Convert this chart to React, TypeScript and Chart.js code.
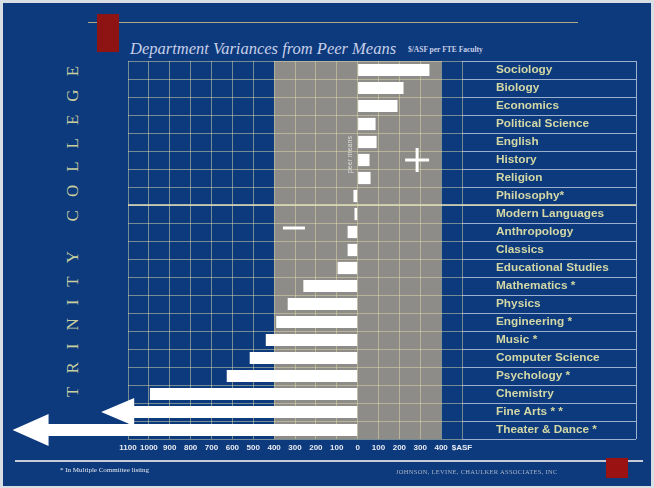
import React, { useEffect, useRef } from 'react';
import { Chart, registerables } from 'chart.js';

Chart.register(...registerables);

const departments = [
  'Sociology',
  'Biology',
  'Economics',
  'Political Science',
  'English',
  'History',
  'Religion',
  'Philosophy*',
  'Modern Languages',
  'Anthropology',
  'Classics',
  'Educational Studies',
  'Mathematics *',
  'Physics',
  'Engineering *',
  'Music *',
  'Computer Science',
  'Psychology *',
  'Chemistry',
  'Fine Arts * *',
  'Theater & Dance *',
];

// $/ASF per FTE faculty, variance from peer means
const variances = [344, 220, 191, 86, 91, 57, 62, -20, -15, -48, -48, -96, -260, -335, -390, -440, -517, -627, -995, -1080, -1490];

// departments that run off the scale (drawn with an arrowhead)
const offScale = ['Fine Arts * *', 'Theater & Dance *'];

const xTickLabels = ['1100', '1000', '900', '800', '700', '600', '500', '400', '300', '200', '100', '0', '100', '200', '300', '400', '$ASF'];
const xMin = -1100;
const xMax = 500;
const peerBand = [-400, 400];
const dividerAfter = 'Philosophy*';

const BLUE = '#0d3a7c';
const PALE = '#d3d8a6';

const decorPlugin = {
  id: 'decor',
  beforeDraw(chart: any) {
    const { ctx, chartArea, scales } = chart;
    const x = scales.x;
    const x0 = x.getPixelForValue(peerBand[0]);
    const x1 = x.getPixelForValue(peerBand[1]);
    ctx.save();
    ctx.fillStyle = '#8d8c89';
    ctx.fillRect(x0, chartArea.top, x1 - x0, chartArea.bottom - chartArea.top);
    ctx.restore();
  },
  afterDraw(chart: any) {
    const { ctx, chartArea, scales } = chart;
    const y = scales.y;
    const x = scales.x;
    const rightEdge = 636;
    ctx.save();
    // row lines extended into label column
    ctx.strokeStyle = 'rgba(205,215,235,0.75)';
    ctx.lineWidth = 1;
    for (let i = 0; i <= departments.length; i++) {
      const py = Math.round(y.getPixelForValue(i - 0.5)) + 0.5;
      ctx.beginPath();
      ctx.moveTo(chartArea.right, py);
      ctx.lineTo(rightEdge, py);
      ctx.stroke();
    }
    ctx.beginPath();
    ctx.moveTo(rightEdge + 0.5, chartArea.top);
    ctx.lineTo(rightEdge + 0.5, chartArea.bottom);
    ctx.stroke();
    // divider between positive and negative departments
    const di = departments.indexOf(dividerAfter);
    const dy = y.getPixelForValue(di + 0.5);
    ctx.strokeStyle = '#e2dfb8';
    ctx.lineWidth = 1.6;
    ctx.beginPath();
    ctx.moveTo(chartArea.left, dy);
    ctx.lineTo(rightEdge, dy);
    ctx.stroke();

    // arrowheads for off-scale bars
    const meta = chart.getDatasetMeta(0);
    ctx.fillStyle = '#ffffff';
    offScale.forEach((name, k) => {
      const i = departments.indexOf(name);
      const el: any = meta.data[i];
      if (!el) return;
      const H = k === 0 ? 14 : 16;
      const L = k === 0 ? 31 : 34;
      ctx.beginPath();
      ctx.moveTo(el.x + 2, el.y - H);
      ctx.lineTo(el.x - L, el.y);
      ctx.lineTo(el.x + 2, el.y + H);
      ctx.closePath();
      ctx.fill();
    });

    // plus / minus signs
    const zx = x.getPixelForValue(0);
    ctx.strokeStyle = '#ffffff';
    ctx.lineWidth = 3;
    const px = x.getPixelForValue(285);
    const py = y.getPixelForValue(5);
    ctx.beginPath();
    ctx.moveTo(px - 12, py);
    ctx.lineTo(px + 12, py);
    ctx.moveTo(px, py - 12);
    ctx.lineTo(px, py + 12);
    ctx.stroke();
    const mx = x.getPixelForValue(-305);
    const my = y.getPixelForValue(9) - 4;
    ctx.beginPath();
    ctx.moveTo(mx - 11, my);
    ctx.lineTo(mx + 11, my);
    ctx.stroke();

    // "peer means" rotated label by the zero line
    ctx.translate(zx - 8, y.getPixelForValue(4.7));
    ctx.rotate(-Math.PI / 2);
    ctx.fillStyle = 'rgba(235,235,235,0.85)';
    ctx.font = '7px "Liberation Sans"';
    ctx.textAlign = 'center';
    ctx.textBaseline = 'middle';
    ctx.fillText('peer means', 0, 0);
    ctx.restore();
  },
};

export default function App() {
  const canvasRef = useRef<HTMLCanvasElement | null>(null);

  useEffect(() => {
    document.body.style.margin = '0';
    const canvas = canvasRef.current;
    if (!canvas) return;
    const chart = new Chart(canvas, {
      type: 'bar',
      data: {
        labels: departments,
        datasets: [
          {
            data: variances,
            backgroundColor: '#ffffff',
            borderWidth: 0,
            barPercentage: 0.68,
            categoryPercentage: 1,
            clip: false as any,
          },
        ],
      },
      options: {
        indexAxis: 'y',
        responsive: false,
        animation: false,
        layout: { padding: { left: 128, top: 61, right: 0, bottom: 29 } },
        plugins: { legend: { display: false }, tooltip: { enabled: false } },
        scales: {
          x: {
            type: 'linear',
            min: xMin,
            max: xMax,
            afterFit: (s: any) => {
              s.height = 20;
            },
            border: { display: false },
            grid: { color: 'rgba(225,220,170,0.5)', lineWidth: 1, drawTicks: false },
            ticks: {
              stepSize: 100,
              autoSkip: false,
              maxRotation: 0,
              padding: 4,
              color: '#e8ebf3',
              font: { family: 'Liberation Sans', size: 8, weight: 'bold' },
              callback: (v: any) => xTickLabels[Math.round((Number(v) - xMin) / 100)] ?? '',
            },
          },
          y: {
            type: 'category',
            position: 'right',
            offset: true,
            afterFit: (s: any) => {
              s.width = 192;
            },
            border: { display: false },
            grid: { color: 'rgba(225,220,170,0.5)', lineWidth: 1, drawTicks: false, offset: true },
            ticks: {
              padding: 34,
              crossAlign: 'near',
              color: PALE,
              font: { family: 'Liberation Sans', size: 11.8, weight: 'bold' },
            },
          },
        },
      },
      plugins: [decorPlugin],
    });
    return () => chart.destroy();
  }, []);

  return (
    <div style={{ position: 'fixed', left: 0, top: 0, width: 654, height: 488, background: '#d9dde4', overflow: 'hidden' }}>
      <div style={{ position: 'absolute', left: 3, top: 3, right: 3, bottom: 2, background: BLUE }} />
      {/* top rule and red block */}
      <div style={{ position: 'absolute', left: 88, top: 22, width: 490, height: 1, background: '#b0a880' }} />
      <div style={{ position: 'absolute', left: 97, top: 14, width: 22, height: 38, background: '#8e1414' }} />
      {/* bottom rule and red block */}
      <div style={{ position: 'absolute', left: 15, top: 460, width: 628, height: 2, background: '#c6cdd6' }} />
      <div style={{ position: 'absolute', left: 606, top: 458, width: 22, height: 20, background: '#9a1212' }} />
      {/* title */}
      <div
        style={{
          position: 'absolute',
          left: 130,
          top: 39,
          fontFamily: '"Liberation Serif", serif',
          fontStyle: 'italic',
          fontSize: 16.5,
          color: '#c7cfe8',
          whiteSpace: 'nowrap',
          lineHeight: '20px',
        }}
      >
        Department Variances from Peer Means
      </div>
      <div
        style={{
          position: 'absolute',
          left: 408,
          top: 45,
          fontFamily: '"Liberation Serif", serif',
          fontSize: 7.5,
          fontWeight: 'bold',
          color: '#c7cfe8',
          whiteSpace: 'nowrap',
        }}
      >
        $/ASF per FTE Faculty
      </div>
      {/* vertical college name */}
      <div
        style={{
          position: 'absolute',
          left: 63,
          top: 50,
          width: 20,
          height: 347,
          writingMode: 'vertical-rl',
          transform: 'rotate(180deg)',
          fontFamily: '"Liberation Serif", serif',
          fontSize: 17,
          letterSpacing: 13,
          lineHeight: '20px',
          color: '#c9cf9f',
          whiteSpace: 'nowrap',
        }}
      >
        TRINITY COLLEGE
      </div>
      <canvas ref={canvasRef} width={654} height={488} style={{ position: 'absolute', left: 0, top: 0 }} />
      {/* footnotes */}
      <div
        style={{
          position: 'absolute',
          left: 60,
          top: 466,
          fontFamily: '"Liberation Serif", serif',
          fontSize: 7,
          color: '#e6e8f0',
          whiteSpace: 'nowrap',
        }}
      >
        * In Multiple Committee listing
      </div>
      <div
        style={{
          position: 'absolute',
          left: 396,
          top: 468,
          fontFamily: '"Liberation Serif", serif',
          fontSize: 6.5,
          color: '#aab4c8',
          whiteSpace: 'nowrap',
          letterSpacing: 0.3,
        }}
      >
        JOHNSON, LEVINE, CHAULKER ASSOCIATES, INC
      </div>
    </div>
  );
}
